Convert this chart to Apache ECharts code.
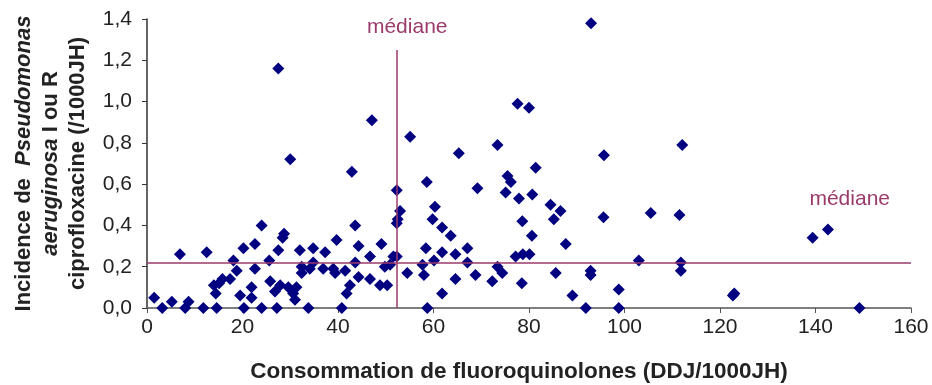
<!DOCTYPE html>
<html>
<head>
<meta charset="utf-8">
<script src="https://cdn.jsdelivr.net/npm/echarts@6/dist/echarts.min.js"></script>
<style>
html,body{margin:0;padding:0;background:#fff;}
#chart{width:932px;height:385px;}
</style>
</head>
<body>
<div id="chart"></div>
<script>
// consommation de fluoroquinolones (DDJ/1000JH), x
const consommation=[1.5,3.2,5.2,6.9,8.0,8.7,11.8,12.5,14.0,14.4,14.6,15.1,15.8,17.4,18.1,18.8,19.5,20.2,20.3,21.9,
  21.9,22.6,22.6,24.0,24.0,25.6,25.8,26.8,27.2,27.5,27.5,27.9,28.4,28.7,29.6,30.0,30.6,31.0,31.3,32.0,
  32.4,32.4,33.8,34.1,34.8,34.8,36.9,37.3,39.0,39.4,39.7,40.8,41.5,41.8,42.5,42.9,43.6,43.6,44.3,44.3,
  46.7,46.7,47.1,48.8,49.1,49.8,50.3,50.9,51.6,52.3,52.3,53.0,52.5,52.3,54.5,55.1,57.7,58.0,58.4,58.6,
  58.7,59.8,60.1,60.3,61.8,61.8,61.8,63.6,64.6,64.6,65.3,67.1,67.1,68.8,69.2,72.3,73.4,73.4,74.4,75.1,
  75.5,76.2,77.2,77.6,77.9,78.5,78.6,78.7,80.0,80.1,80.6,80.7,81.4,84.5,85.2,85.6,86.6,87.7,89.1,91.9,
  92.9,92.9,93.0,95.6,95.7,98.8,98.8,103.0,105.5,111.5,111.8,111.8,112.1,122.7,123.0,139.4,142.6,149.2];
// incidence P. aeruginosa I ou R (/1000JH), y
const incidence=[0.05,0.00,0.03,0.26,0.00,0.03,0.00,0.27,0.11,0.07,0.00,0.12,0.14,0.14,0.23,0.18,0.06,0.29,0.00,0.10,
  0.05,0.31,0.19,0.40,0.00,0.23,0.13,0.08,0.00,0.28,1.16,0.11,0.34,0.36,0.10,0.72,0.07,0.04,0.10,0.28,
  0.20,0.17,0.00,0.19,0.29,0.22,0.19,0.27,0.19,0.17,0.33,0.00,0.18,0.07,0.11,0.66,0.40,0.22,0.30,0.15,
  0.25,0.14,0.91,0.11,0.31,0.20,0.11,0.21,0.25,0.25,0.57,0.47,0.43,0.41,0.17,0.83,0.21,0.16,0.29,0.61,
  0.00,0.43,0.23,0.49,0.39,0.27,0.07,0.35,0.26,0.14,0.75,0.29,0.22,0.16,0.58,0.13,0.79,0.20,0.17,0.56,
  0.64,0.61,0.25,0.99,0.53,0.12,0.42,0.26,0.97,0.26,0.35,0.55,0.68,0.50,0.43,0.17,0.47,0.31,0.06,0.00,
  0.18,0.16,1.38,0.44,0.74,0.09,0.00,0.23,0.46,0.45,0.22,0.18,0.79,0.06,0.07,0.34,0.38,0.00];
const medianX=52.4;
const medianY=0.22;
const medianTop=1.25;
const xTicks=[0,20,40,60,80,100,120,140,160];
const yTicks=[0,0.2,0.4,0.6,0.8,1.0,1.2,1.4];

const points=consommation.map((x,i)=>[x,incidence[i]]);
const lineCol='#9B3A6B';
const font='"Liberation Sans", Arial, sans-serif';

const chart=echarts.init(document.getElementById('chart'),null,{renderer:'canvas'});
chart.setOption({
  backgroundColor:'#fff',
  animation:false,
  grid:{left:147,right:21,top:19,bottom:77,containLabel:false,outerBoundsMode:'none'},
  xAxis:{
    type:'value',min:xTicks[0],max:xTicks[xTicks.length-1],interval:20,
    name:'Consommation de fluoroquinolones (DDJ/1000JH)',
    nameLocation:'middle',nameGap:52,
    nameTextStyle:{fontFamily:font,fontWeight:'bold',fontSize:22.5,color:'#222',padding:[0,20,0,0]},
    axisLine:{lineStyle:{color:'#555',width:1.5}},
    axisTick:{length:5,lineStyle:{color:'#555'}},
    axisLabel:{fontFamily:font,fontSize:21,color:'#222',margin:9},
    splitLine:{show:false}
  },
  yAxis:{
    type:'value',min:yTicks[0],max:yTicks[yTicks.length-1],interval:0.2,
    name:'{b|Incidence de  }{bi|Pseudomonas}\n{bi|aeruginosa}{b| I ou R}\n{b|ciprofloxacine (/1000JH)}',
    nameLocation:'middle',nameGap:53,nameRotate:90,
    nameTextStyle:{
      fontFamily:font,fontSize:22,color:'#222',lineHeight:27,
      rich:{
        b:{fontFamily:font,fontSize:22,fontWeight:'bold',color:'#222',lineHeight:27},
        bi:{fontFamily:font,fontSize:22,fontWeight:'bold',fontStyle:'italic',color:'#222',lineHeight:27}
      }
    },
    axisLine:{show:true,lineStyle:{color:'#333',width:1.5}},
    axisTick:{show:true,length:5,lineStyle:{color:'#333'}},
    axisLabel:{fontFamily:font,fontSize:21,color:'#222',margin:15,
      formatter:v=>v.toFixed(1).replace('.',',')},
    splitLine:{show:false}
  },
  series:[{
    type:'scatter',
    data:points,
    symbol:'diamond',
    symbolSize:12,
    itemStyle:{color:'#000080',opacity:1},
    markLine:{
      silent:true,
      symbol:'none',
      lineStyle:{color:lineCol,width:1.5,type:'solid'},
      data:[
        [{coord:[medianX,0],label:{show:true,position:'end',formatter:'médiane',distance:12,
            fontFamily:font,fontSize:21,color:lineCol,padding:[0,0,0,20]}},
         {coord:[medianX,medianTop]}],
        [{coord:[0,medianY],label:{show:true,position:'insideEndTop',formatter:'médiane',distance:0,
            fontFamily:font,fontSize:21,color:lineCol,padding:[0,21,53,0]}},
         {coord:[xTicks[xTicks.length-1],medianY]}]
      ]
    }
  }]
});
</script>
</body>
</html>
